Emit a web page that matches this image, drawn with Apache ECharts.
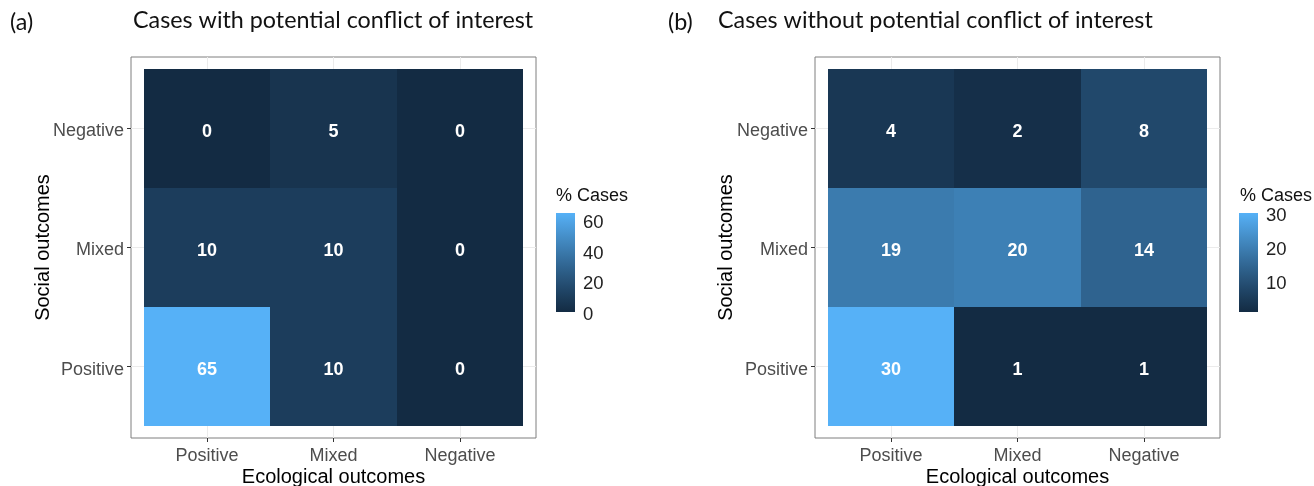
<!DOCTYPE html>
<html>
<head>
<meta charset="utf-8">
<script src="https://cdn.jsdelivr.net/npm/echarts@6/dist/echarts.min.js"></script>
<style>
  html, body { margin: 0; padding: 0; background: #fff; }
  #chart { width: 1314px; height: 486px; }
</style>
</head>
<body>
<div id="chart"></div>
<script>
// categories, index 0 = Positive (left / bottom)
var ecoCats = ['Positive', 'Mixed', 'Negative'];
var socCats = ['Positive', 'Mixed', 'Negative'];
// % cases: rows = social outcome (Positive, Mixed, Negative), cols = ecological outcome
var withConflict = [[65, 10, 0], [10, 10, 0], [0, 5, 0]];
var withoutConflict = [[30, 1, 1], [19, 20, 14], [4, 2, 8]];
// colorbar breaks
var labelsA = [0, 20, 40, 60];
var ticksA = [20, 40, 60];
var labelsB = [10, 20, 30];
var ticksB = [10, 20];

var FONT = '"Liberation Sans", Arial, sans-serif';
var LOW = '#132B43', HIGH = '#56B1F7';

// ggplot blends the gradient in Lab space
function hexToRgb(h) {
  return [parseInt(h.slice(1, 3), 16), parseInt(h.slice(3, 5), 16), parseInt(h.slice(5, 7), 16)];
}
function toLab(hex) {
  var c = hexToRgb(hex).map(function (v) {
    v /= 255;
    return v <= 0.04045 ? v / 12.92 : Math.pow((v + 0.055) / 1.055, 2.4);
  });
  var X = (0.4124564 * c[0] + 0.3575761 * c[1] + 0.1804375 * c[2]) / 0.95047;
  var Y = 0.2126729 * c[0] + 0.7151522 * c[1] + 0.0721750 * c[2];
  var Z = (0.0193339 * c[0] + 0.1191920 * c[1] + 0.9503041 * c[2]) / 1.08883;
  var f = function (t) { return t > 0.008856 ? Math.cbrt(t) : 7.787 * t + 16 / 116; };
  return [116 * f(Y) - 16, 500 * (f(X) - f(Y)), 200 * (f(Y) - f(Z))];
}
function fromLab(lab) {
  var fy = (lab[0] + 16) / 116, fx = fy + lab[1] / 500, fz = fy - lab[2] / 200;
  var inv = function (t) { return t * t * t > 0.008856 ? t * t * t : (t - 16 / 116) / 7.787; };
  var X = inv(fx) * 0.95047, Y = inv(fy), Z = inv(fz) * 1.08883;
  var r = 3.2404542 * X - 1.5371385 * Y - 0.4985314 * Z;
  var g = -0.9692660 * X + 1.8760108 * Y + 0.0415560 * Z;
  var b = 0.0556434 * X - 0.2040259 * Y + 1.0572252 * Z;
  return 'rgb(' + [r, g, b].map(function (v) {
    v = v <= 0.0031308 ? 12.92 * v : 1.055 * Math.pow(v, 1 / 2.4) - 0.055;
    return Math.round(Math.max(0, Math.min(1, v)) * 255);
  }).join(',') + ')';
}
var labLow = toLab(LOW), labHigh = toLab(HIGH);
var ramp = [];
for (var i = 0; i <= 20; i++) {
  var t = i / 20;
  ramp.push(fromLab([0, 1, 2].map(function (k) { return labLow[k] + (labHigh[k] - labLow[k]) * t; })));
}

function toCells(matrix) {
  var out = [];
  matrix.forEach(function (row, y) {
    row.forEach(function (v, x) { out.push([x, y, v]); });
  });
  return out;
}
function extent(matrix) {
  var flat = [].concat.apply([], matrix);
  return [Math.min.apply(null, flat), Math.max.apply(null, flat)];
}
var extA = extent(withConflict), extB = extent(withoutConflict);

function renderTile(params, api) {
  var x = api.value(0), y = api.value(1);
  var p0 = api.coord([x - 0.5, y + 0.5]).map(Math.round);
  var p1 = api.coord([x + 0.5, y - 0.5]).map(Math.round);
  return {
    type: 'group',
    children: [{
      type: 'rect',
      shape: { x: p0[0], y: p0[1], width: p1[0] - p0[0], height: p1[1] - p0[1] },
      style: { fill: api.visual('color') }
    }, {
      type: 'text',
      x: (p0[0] + p1[0]) / 2,
      y: (p0[1] + p1[1]) / 2 + 4,
      style: {
        text: String(api.value(2)), fill: '#fff', align: 'center', verticalAlign: 'middle',
        font: 'bold 18px ' + FONT
      }
    }]
  };
}

function renderBar(params, api) {
  var p0 = api.coord([0, api.value(1)]);
  var p1 = api.coord([1, api.value(0)]);
  var stops = ramp.map(function (c, i) { return { offset: 1 - i / 20, color: c }; });
  return {
    type: 'rect',
    shape: { x: p0[0], y: p0[1], width: p1[0] - p0[0], height: p1[1] - p0[1] },
    style: { fill: new echarts.graphic.LinearGradient(0, 0, 0, 1, stops.reverse()) }
  };
}

function tileX(g) {
  return {
    type: 'value', gridIndex: g, min: -0.6, max: 2.6,
    name: 'Ecological outcomes', nameLocation: 'middle', nameGap: 29, nameMoveOverlap: false,
    nameTextStyle: { color: '#000', fontSize: 20, fontFamily: FONT },
    axisLine: { show: false, onZero: false },
    axisTick: { show: true, length: 4, customValues: [0, 1, 2], lineStyle: { color: '#333' } },
    axisLabel: {
      customValues: [0, 1, 2], margin: 9, color: '#4d4d4d', fontSize: 18, fontFamily: FONT,
      formatter: function (v) { return ecoCats[Math.round(v)]; }
    },
    splitLine: { show: true, lineStyle: { color: '#ebebeb', width: 1 } }
  };
}
function tileY(g, gap) {
  return {
    type: 'value', gridIndex: g, min: -0.6, max: 2.6,
    name: 'Social outcomes', nameLocation: 'middle', nameGap: gap, nameMoveOverlap: false,
    nameTextStyle: { color: '#000', fontSize: 20, fontFamily: FONT },
    axisLine: { show: false, onZero: false },
    axisTick: { show: true, length: 4, customValues: [0, 1, 2], lineStyle: { color: '#333' } },
    axisLabel: {
      customValues: [0, 1, 2], margin: 7,
      formatter: function (v) { return '{t|' + socCats[Math.round(v)] + '}'; },
      rich: { t: { color: '#4d4d4d', fontSize: 18, fontFamily: FONT, padding: [6, 0, 0, 0] } }
    },
    splitLine: { show: true, lineStyle: { color: '#ebebeb', width: 1 } }
  };
}
function barX(g) {
  return { type: 'value', gridIndex: g, min: 0, max: 1, show: false };
}
function barY(g, ext, labels, ticks, side) {
  return {
    type: 'value', gridIndex: g, min: ext[0], max: ext[1], position: side,
    axisLine: { show: false, onZero: false },
    splitLine: { show: false },
    axisTick: { show: true, inside: true, length: 4, customValues: ticks, lineStyle: { color: '#fff', width: 1 } },
    axisLabel: {
      show: side === 'right', customValues: labels, margin: 8,
      formatter: function (v) { return '{t|' + v + '}'; },
      rich: { t: { color: '#222', fontSize: 18.5, fontFamily: FONT, padding: [5, 0, 0, 0] } }
    }
  };
}

var titleStyle = { fontFamily: 'Lato', fontSize: 23.3, fontWeight: 'normal', color: '#111' };
var frame = { show: true, borderColor: '#7f7f7f', borderWidth: 1, backgroundColor: '#fff', outerBoundsMode: 'none', containLabel: false };
var chart = echarts.init(document.getElementById('chart'));
chart.setOption({
  backgroundColor: '#fff',
  animation: false,
  title: [
    { text: '(a)', left: 10, top: 11, padding: 0, textStyle: titleStyle },
    { text: 'Cases with potential conflict of interest', left: 133, top: 9, padding: 0, textStyle: titleStyle },
    { text: '(b)', left: 668, top: 11, padding: 0, textStyle: titleStyle },
    { text: 'Cases without potential conflict of interest', left: 718, top: 9, padding: 0, textStyle: titleStyle },
    { text: '% Cases', left: 556, top: 187, padding: 0, textStyle: { fontFamily: FONT, fontSize: 18, fontWeight: 'normal', color: '#111' } },
    { text: '% Cases', left: 1240, top: 187, padding: 0, textStyle: { fontFamily: FONT, fontSize: 18, fontWeight: 'normal', color: '#111' } }
  ],
  grid: [
    Object.assign({ left: 131, top: 57, width: 405, height: 381 }, frame),
    Object.assign({ left: 815, top: 57, width: 405, height: 381 }, frame),
    { left: 556, top: 213, width: 19, height: 99, outerBoundsMode: 'none' },
    { left: 1239, top: 213, width: 19, height: 99, outerBoundsMode: 'none' }
  ],
  xAxis: [tileX(0), tileX(1), barX(2), barX(3)],
  yAxis: [
    tileY(0, 78), tileY(1, 79),
    barY(2, extA, labelsA, ticksA, 'right'), barY(2, extA, labelsA, ticksA, 'left'),
    barY(3, extB, labelsB, ticksB, 'right'), barY(3, extB, labelsB, ticksB, 'left')
  ],
  visualMap: [
    { type: 'continuous', show: false, seriesIndex: 0, dimension: 2, min: extA[0], max: extA[1], inRange: { color: ramp } },
    { type: 'continuous', show: false, seriesIndex: 1, dimension: 2, min: extB[0], max: extB[1], inRange: { color: ramp } }
  ],
  series: [
    { type: 'custom', xAxisIndex: 0, yAxisIndex: 0, data: toCells(withConflict), encode: { x: 0, y: 1 }, renderItem: renderTile },
    { type: 'custom', xAxisIndex: 1, yAxisIndex: 1, data: toCells(withoutConflict), encode: { x: 0, y: 1 }, renderItem: renderTile },
    { type: 'custom', xAxisIndex: 2, yAxisIndex: 2, data: [extA], encode: { y: [0, 1] }, renderItem: renderBar, silent: true },
    { type: 'custom', xAxisIndex: 3, yAxisIndex: 4, data: [extB], encode: { y: [0, 1] }, renderItem: renderBar, silent: true }
  ]
});
</script>
</body>
</html>
